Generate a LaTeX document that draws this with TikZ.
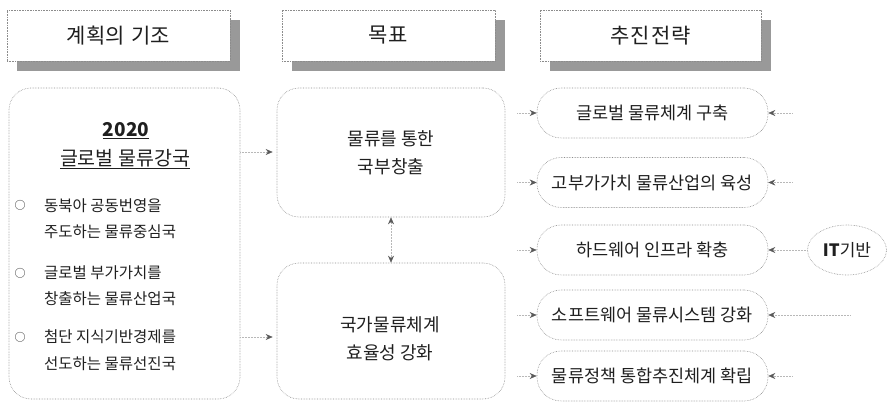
\documentclass[tikz,border=0pt]{standalone}
\usepackage{fontspec}
\setmainfont{Noto Sans CJK KR}
\usetikzlibrary{arrows.meta,shapes.geometric}
\tikzset{
  frame/.style={draw=black!45, densely dotted, line width=0.6pt},
  shadowfill/.style={fill=black!40},
  headbox/.style={frame, fill=white, minimum height=51pt, inner sep=0pt, font=\fontsize{21}{24}\selectfont},
  bigbox/.style={frame, rounded corners=22pt, inner sep=0pt},
  stratbox/.style={frame, rounded corners=24pt, minimum width=231pt, minimum height=50pt, inner sep=0pt, font=\fontsize{17.5}{20}\selectfont},
  bullettext/.style={anchor=west, align=left, inner sep=0pt, font=\fontsize{15.5}{26.5}\selectfont},
  conn/.style={draw=black!28, densely dotted, line width=0.5pt, -{Stealth[length=7pt,width=6pt,color=black!65]}},
  dconn/.style={draw=black!28, densely dotted, line width=0.5pt, {Stealth[length=7pt,width=6pt,color=black!65]}-{Stealth[length=7pt,width=6pt,color=black!65]}}
}
\begin{document}
\begin{tikzpicture}[x=1pt,y=-1pt, text=black!88]
\useasboundingbox (0,0) rectangle (887,403);

% header shadows
\fill[shadowfill] (17,20) rectangle (240,71);
\fill[shadowfill] (292,20) rectangle (505,71);
\fill[shadowfill] (550,20) rectangle (771,71);
% headers
\node[headbox, minimum width=223pt] (h1) at (118.5,35.5) {계획의\hspace{2pt} 기조};
\node[headbox, minimum width=213pt] (h2) at (388.5,35.5) {목\hspace{1pt}표};
\node[headbox, minimum width=221pt] (h3) at (650.5,35.5) {추\hspace{1pt}진\hspace{1pt}전\hspace{1pt}략};

% left big box
\node[bigbox, minimum width=231pt, minimum height=311pt] (base) at (124.5,243.5) {};
\node[font=\bfseries\fontsize{19}{22}\selectfont, inner sep=0pt] (yr) at (126,131) {\underline{2020}};
\node[font=\fontsize{19.5}{22}\selectfont, inner sep=0pt] (vis) at (125,159) {\underline{글로벌 물류강국}};
\node[font=\fontsize{11}{13}\selectfont, inner sep=0pt] (b1) at (20,205) {○};
\node[font=\fontsize{11}{13}\selectfont, inner sep=0pt] (b2) at (20,273) {○};
\node[font=\fontsize{11}{13}\selectfont, inner sep=0pt] (b3) at (20,337) {○};
\node[bullettext] (t1) at (44,218.5) {동북아 공동번영을\\주도하는 물류중심국};
\node[bullettext] (t2) at (44,285.5) {글로벌 부가가치를\\창출하는 물류산업국};
\node[bullettext] (t3) at (44,350) {첨단 지식기반경제를\\선도하는 물류선진국};

% middle boxes
\node[bigbox, minimum width=228pt, minimum height=129pt, align=center, font=\fontsize{18}{28}\selectfont] (g1) at (391,152.5) {물류를 통한\\국부창출};
\node[bigbox, minimum width=228pt, minimum height=136pt] (g2) at (391,331) {};
\node[align=center, inner sep=0pt, font=\fontsize{18}{28}\selectfont] (g2t) at (390,339) {국가물류체계\\효율성 강화};

% strategy boxes
\node[stratbox] (s1) at (652.5,113) {글로벌 물류체계 구축};
\node[stratbox] (s2) at (652.5,182.5) {고부가가치 물류산업의 육성};
\node[stratbox] (s3) at (652.5,250) {하드웨어 인프라 확충};
\node[stratbox] (s4) at (652.5,315) {소프트웨어 물류시스템 강화};
\node[stratbox] (s5) at (652.5,376) {물류정책 통합추진체계 확립};

% IT node
\node[frame, ellipse, minimum width=79pt, minimum height=50pt, inner sep=0pt, font=\fontsize{17}{20}\selectfont] (it) at (847,250) {\textbf{IT}기반};

% connectors: base -> goals
\coordinate (a1) at (240,152);
\coordinate (a2) at (240,337);
\draw[conn, shorten >=4pt] (base.east |- a1) -- (g1.west |- a1);
\draw[conn, shorten >=4pt] (base.east |- a2) -- (g2.west |- a2);
% between goals
\draw[dconn] (g2.north) -- (g1.south);

% goals -> strategies
\foreach \i/\y in {1/113,2/182.5,3/250,4/315,5/376}{
  \coordinate (sl\i) at (517,\y);
  \draw[conn] (sl\i) -- (s\i.west);
}
% right side arrows
\foreach \i/\y in {1/113,2/182.5,5/376}{
  \coordinate (sr\i) at (792,\y);
  \draw[conn] (sr\i) -- (s\i.east);
}
\draw[conn] (it.west) -- (s3.east);
\coordinate (sr4) at (850,315);
\draw[conn] (sr4) -- (s4.east);
\end{tikzpicture}
\end{document}
